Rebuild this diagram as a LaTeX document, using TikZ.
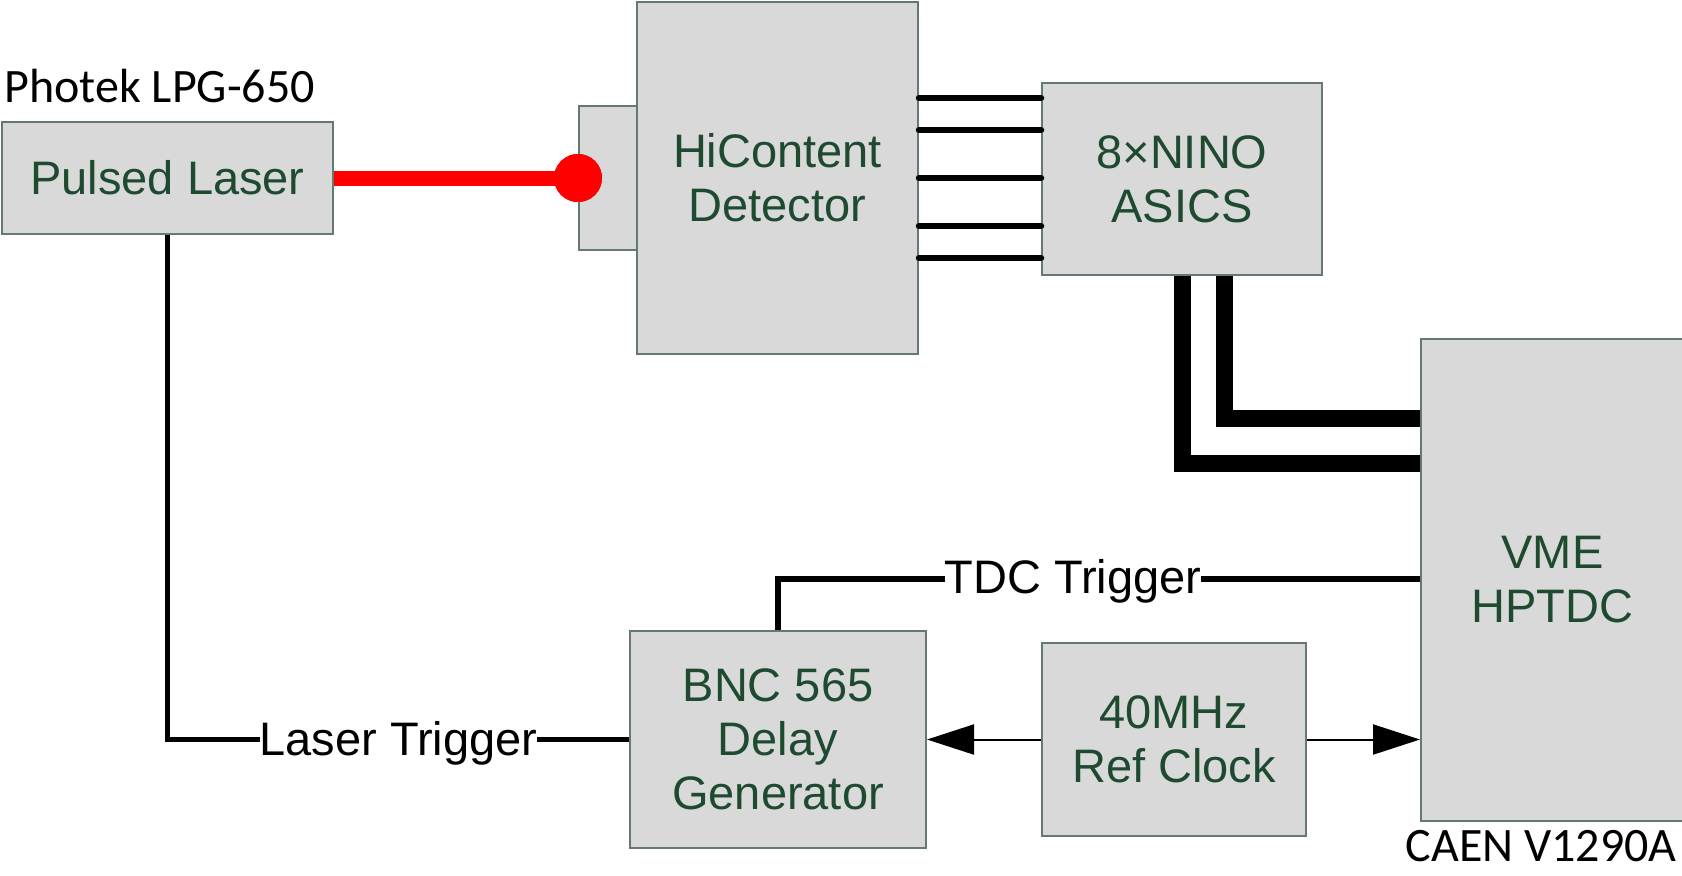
\documentclass[tikz,border=0pt]{standalone}
\usepackage{fontspec}
\setmainfont{Liberation Sans}
\newfontfamily\cali{Carlito}
\usetikzlibrary{arrows.meta}
\definecolor{boxfill}{HTML}{D9D9D9}
\definecolor{boxline}{HTML}{647A70}
\definecolor{boxtext}{HTML}{1E4A30}
\begin{document}
\begin{tikzpicture}[x=0.5pt,y=-0.5pt,
  blk/.style={draw=boxline, fill=boxfill, line width=1pt, inner sep=0pt, align=center, text=boxtext, font=\fontsize{23.5}{27}\selectfont},
  wire/.style={line width=2.75pt, black},
  bus/.style={line width=3.25pt, line cap=round, black},
  fat/.style={line width=8.5pt, line join=miter, black},
  clk/.style={line width=1pt, black, -{Triangle[length=23.5pt,width=15pt]}},
  lbl/.style={fill=white, inner xsep=0pt, inner ysep=1pt, font=\fontsize{23.5}{27}\selectfont},
  capt/.style={font=\cali\fontsize{24}{28}\selectfont, inner sep=0pt}]
\useasboundingbox (0,0) rectangle (1682,875);
\fill[white] (0,0) rectangle (1682,875);

% boxes
\node[blk, minimum width=165.5pt, minimum height=56pt] (laser) at (167.5,178) {Pulsed Laser};
\node[blk, minimum width=29pt, minimum height=72pt] (conn) at (608,178) {};
\node[blk, minimum width=140.5pt, minimum height=176pt] (hic) at (777.5,178) {HiContent\\Detector};
\node[blk, minimum width=140pt, minimum height=96pt] (nino) at (1182,179) {8\texttimes NINO\\ASICS};
\node[blk, minimum width=131.5pt, minimum height=241pt] (vme) at (1552.5,580) {VME\\HPTDC};
\node[blk, minimum width=148pt, minimum height=108.5pt] (bnc) at (778,739.5) {BNC 565\\Delay\\Generator};
\node[blk, minimum width=132pt, minimum height=96.5pt] (clock) at (1174,739.5) {40MHz\\Ref Clock};

% captions
\node[capt, anchor=base west] (photek) at (4,102) {Photek LPG-650};
\node[capt, anchor=base east] (caen) at (1677,861) {CAEN V1290A};

% laser beam
\node[circle, fill=red, inner sep=0pt, minimum size=24pt] (dot) at (conn.west) {};
\draw[red, line width=7.5pt] (laser.east) -- (dot.center);
\node[circle, fill=red, inner sep=0pt, minimum size=24pt] at (dot.center) {};

% detector to NINO
\foreach \yy in {98,130,178,226,258}
  \draw[bus] (hic.east |- 0,\yy) -- (nino.west |- 0,\yy);

% NINO to VME
\coordinate (outer) at (1182,463);
\coordinate (inner) at (1224,418);
\draw[fat] (nino.south -| outer) -- (outer) -- (vme.west |- outer);
\draw[fat] (nino.south -| inner) -- (inner) -- (vme.west |- inner);

% TDC trigger
\coordinate (tcorner) at (778,579);
\draw[wire] (vme.west |- tcorner) -- (tcorner) -- (bnc.north);
\node[lbl] (tdc) at (1073,581) {TDC Trigger};

% Laser trigger
\coordinate (lcorner) at (167.5,739.5);
\draw[wire] (laser.south) -- (lcorner) -- (bnc.west);
\node[lbl] (ltrig) at (398.5,743) {Laser Trigger};

% clock
\draw[clk] (clock.west) -- (bnc.east);
\draw[clk] (clock.east) -- (vme.west |- clock.east);
\end{tikzpicture}
\end{document}
